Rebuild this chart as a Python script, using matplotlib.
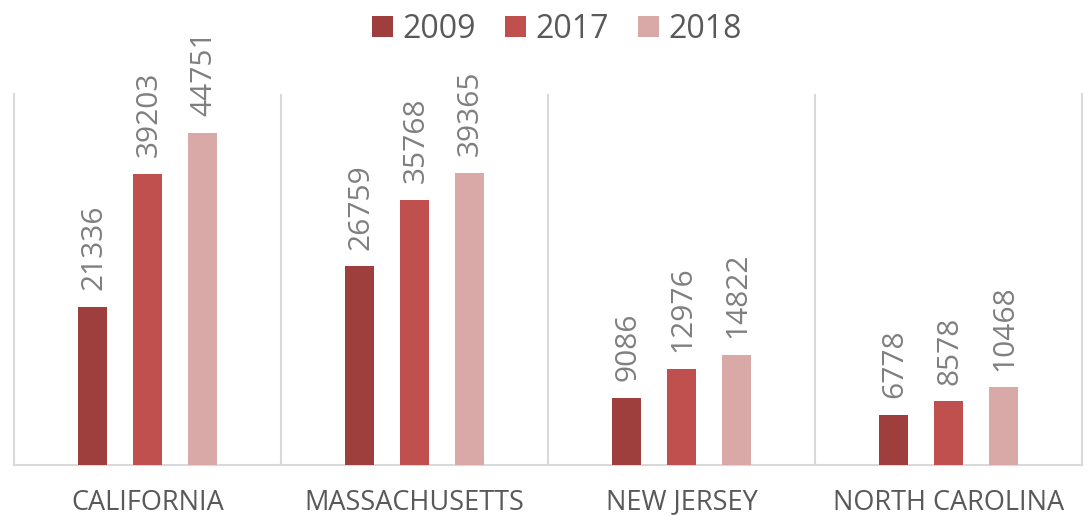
import matplotlib
matplotlib.use("Agg")
import matplotlib.pyplot as plt
import numpy as np

states = ["CALIFORNIA", "MASSACHUSETTS", "NEW JERSEY", "NORTH CAROLINA"]
years = ["2009", "2017", "2018"]
v2009 = [21336, 26759, 9086, 6778]
v2017 = [39203, 35768, 12976, 8578]
v2018 = [44751, 39365, 14822, 10468]
series = [v2009, v2017, v2018]
colors = ["#9E3F3E", "#C0504D", "#D9A9A8"]

plt.rcParams['font.family'] = ['Open Sans', 'DejaVu Sans']

fig = plt.figure(figsize=(10.92, 5.2), dpi=100)
ax = fig.add_axes([14/1092, 55/520, (1082-14)/1092, (465-94)/520])

x = np.arange(len(states))
width = 0.109
offsets = [-0.205, 0.0, 0.205]
for vals, off, col, yr in zip(series, offsets, colors, years):
    bars = ax.bar(x + off, vals, width=width, color=col, label=yr, zorder=3)
    for b, v in zip(bars, vals):
        ax.annotate(str(v), (b.get_x() + b.get_width()/2, v),
                    xytext=(1, 12), textcoords='offset points',
                    rotation=90, ha='center', va='bottom',
                    fontsize=21.5, color='#7F7F7F')

ax.set_xlim(-0.5, 3.5)
ax.set_ylim(0, 50000)
ax.set_yticks([])
ax.set_xticks(x)
ax.set_xticklabels(states, fontsize=19.5, color='#595959')
ax.tick_params(axis='x', length=0, pad=17)
for xv in [0.5, 1.5, 2.5]:
    ax.axvline(xv, color='#D9D9D9', lw=1.5, zorder=1)
for s in ['left', 'right', 'bottom']:
    ax.spines[s].set_color('#D9D9D9')
    ax.spines[s].set_linewidth(1.5)
ax.spines['top'].set_visible(False)

leg = fig.legend(loc='center', bbox_to_anchor=(557/1092, 1 - 29/520), ncol=3,
                 frameon=False, fontsize=23, handlelength=0.66, handleheight=0.66,
                 handletextpad=0.3, columnspacing=0.9)
for t in leg.get_texts():
    t.set_color('#595959')

fig.savefig("out.png", dpi=100)
